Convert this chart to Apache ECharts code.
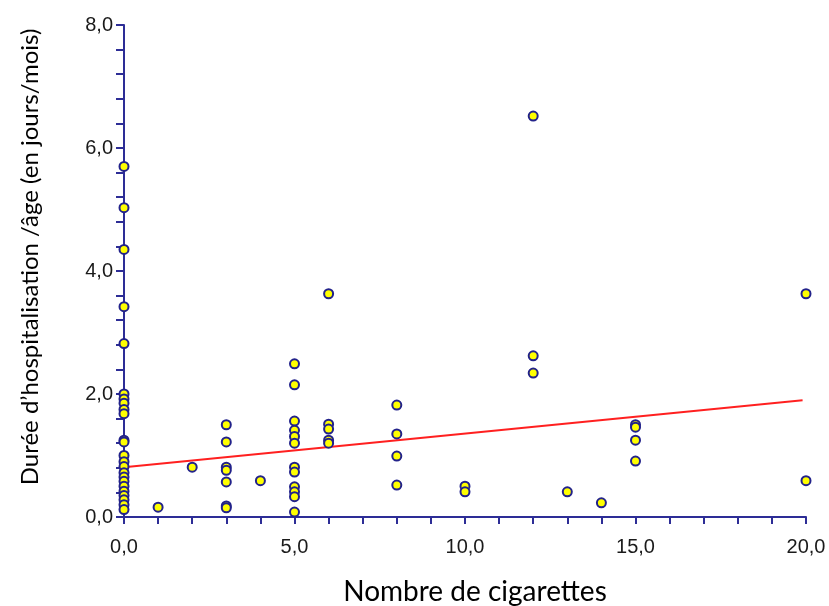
<!DOCTYPE html>
<html>
<head>
<meta charset="utf-8">
<script src="https://cdn.jsdelivr.net/npm/echarts@6/dist/echarts.min.js"></script>
<style>
html,body{margin:0;padding:0;background:#fff;}
#chart{width:829px;height:606px;}
</style>
</head>
<body>
<div id="chart"></div>
<script>
// Number of cigarettes (x) for each patient
var cigarettes = [
  0,0,0,0,0,0,0,0,0,0,0,0,0,0,0,0,0,0,0,0,0,0,0,0,
  1,2,
  3,3,3,3,3,3,3,
  4,
  5,5,5,5,5,5,5,5,5,5,5,5,
  6,6,6,6,6,
  8,8,8,8,
  10,10,
  12,12,12,
  13,14,
  15,15,15,15,
  20,20
];
// Hospitalisation duration / age (y)
var duree = [
  5.70,5.03,4.35,3.42,2.82,2.00,1.92,1.85,1.75,1.68,1.25,1.22,1.00,0.90,0.82,0.72,0.65,0.58,0.50,0.42,0.35,0.28,0.20,0.12,
  0.16,0.81,
  1.50,1.22,0.81,0.76,0.57,0.18,0.15,
  0.59,
  2.49,2.15,1.56,1.41,1.31,1.20,0.81,0.73,0.49,0.41,0.33,0.08,
  3.63,1.51,1.43,1.25,1.20,
  1.82,1.35,0.99,0.52,
  0.50,0.41,
  6.52,2.62,2.34,
  0.41,0.23,
  1.50,1.46,1.25,0.91,
  3.63,0.59
];
// Regression line endpoints
var fitX = [0, 19.9];
var fitY = [0.81, 1.90];

var xTitle = 'Nombre de cigarettes';
var yTitle = 'Durée d\u2019hospitalisation /âge (en jours/mois)';

var points = cigarettes.map(function(c, i){ return [c, duree[i]]; });
var fitLine = fitX.map(function(x, i){ return [x, fitY[i]]; });

function fmt(v){ return v.toFixed(1).replace('.', ','); }

var axisColor = '#2d2d96';
var labelFont = {color:'#1a1a1a', fontFamily:'Liberation Sans, Arial', fontSize:20};
var chart = echarts.init(document.getElementById('chart'), null, {renderer:'canvas'});
chart.setOption({
  animation:false,
  backgroundColor:'#fff',
  grid:{left:124, right:23, top:25, bottom:89},
  xAxis:{
    type:'value', min:0, max:20, interval:5,
    axisLine:{show:true, onZero:false, lineStyle:{color:axisColor, width:2}},
    axisTick:{show:true, length:7, lineStyle:{color:axisColor, width:2}},
    minorTick:{show:true, splitNumber:5, length:7, lineStyle:{color:axisColor, width:2}},
    splitLine:{show:false},
    axisLabel:Object.assign({formatter:fmt, margin:20}, labelFont)
  },
  yAxis:{
    type:'value', min:0, max:8, interval:2,
    axisLine:{show:true, onZero:false, lineStyle:{color:axisColor, width:2}},
    axisTick:{show:true, length:8, lineStyle:{color:axisColor, width:2}},
    minorTick:{show:true, splitNumber:5, length:8, lineStyle:{color:axisColor, width:2}},
    splitLine:{show:false},
    axisLabel:Object.assign({formatter:fmt, margin:11}, labelFont)
  },
  graphic:[
    {type:'text', x:475, y:592, style:{text:xTitle, align:'center', verticalAlign:'middle', fill:'#000', font:'28px Lato'}},
    {type:'text', rotation:Math.PI/2, x:30, y:257, style:{text:yTitle, align:'center', verticalAlign:'middle', fill:'#000', font:'24px Lato'}}
  ],
  series:[
    {type:'line', data:fitLine, symbol:'none', z:3, lineStyle:{color:'#ff2020', width:2}},
    {type:'scatter', data:points, symbol:'circle', symbolSize:9, z:5, clip:false,
      itemStyle:{color:'#ffff00', borderColor:'#22228a', borderWidth:2, opacity:1}}
  ]
});
</script>
</body>
</html>
